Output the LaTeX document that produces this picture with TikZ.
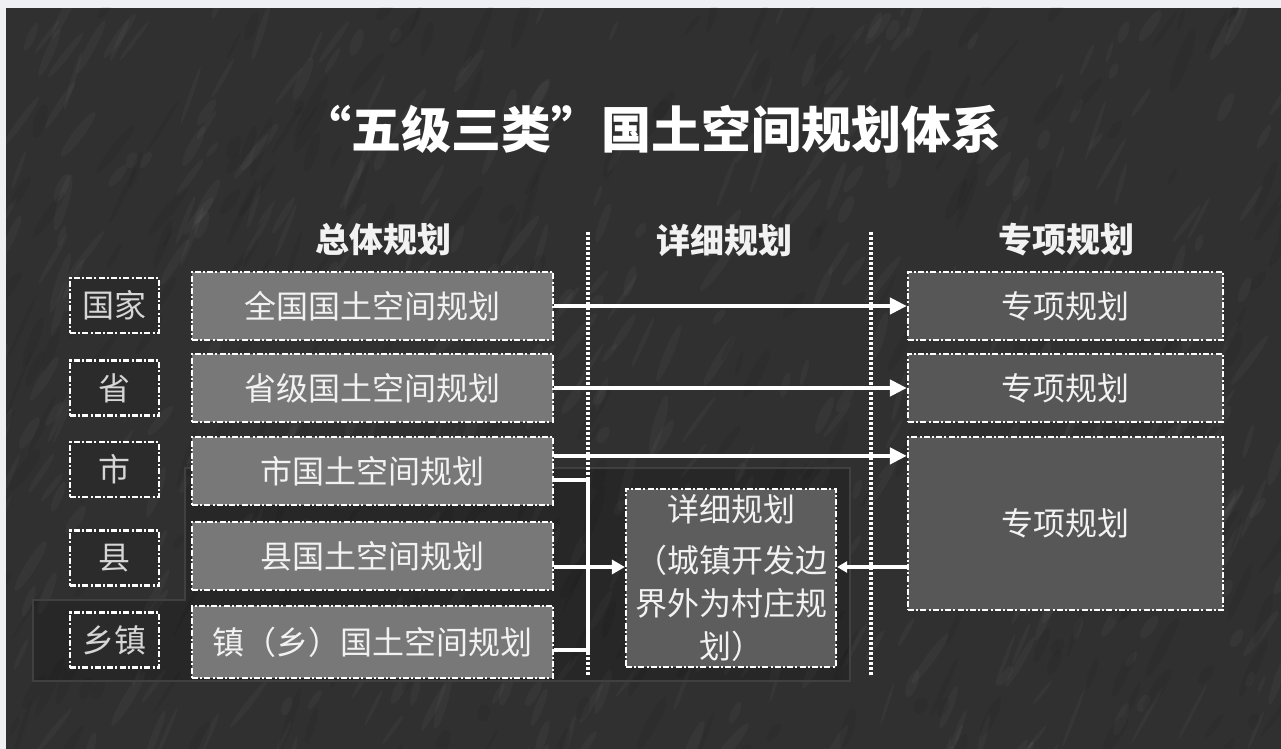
\documentclass[tikz,border=0pt]{standalone}
\usepackage{fontspec}
\setmainfont{Noto Sans CJK SC}
\usetikzlibrary{arrows.meta,calc}
\definecolor{pagebg}{HTML}{EEF0F3}
\definecolor{bgdark}{HTML}{303030}
\definecolor{lvlfill}{HTML}{2B2B2B}
\definecolor{grayfill}{HTML}{787878}
\definecolor{rightfill}{HTML}{575757}
\definecolor{midfill}{HTML}{5D5D5D}
\definecolor{txtlight}{HTML}{F2F2F2}
\definecolor{txtgray}{HTML}{D6D6D6}
\definecolor{paneledge}{HTML}{404040}
\tikzset{
  ddash/.style={draw=white, line width=1.1pt, dash pattern=on 3pt off 1.1pt on 1pt off 1.1pt},
  lvlbox/.style={ddash, fill=lvlfill, minimum width=44.5pt, minimum height=27.5pt, inner sep=0pt,
    font=\fontsize{16}{18}\selectfont, text=txtgray},
  graybox/.style={ddash, fill=grayfill, minimum width=180.5pt, minimum height=34pt, inner sep=0pt,
    font=\fontsize{16}{18}\selectfont, text=txtlight},
  rightbox/.style={ddash, fill=rightfill, minimum width=157.5pt, minimum height=34pt, inner sep=0pt,
    font=\fontsize{16}{18}\selectfont, text=txtlight},
  midbox/.style={ddash, fill=midfill, minimum width=105pt, minimum height=89pt, inner sep=0pt,
    align=center, font=\fontsize{16}{21.5}\selectfont, text=txtlight},
  header/.style={font=\fontsize{17}{20}\selectfont\bfseries, text=txtlight},
  sepline/.style={draw=white, line width=1.7pt, dash pattern=on 1.4pt off 1.1pt},
  conn/.style={draw=white, line width=2.4pt, -{Triangle[length=8.5pt,width=8pt]}},
  connsmall/.style={draw=white, line width=2.4pt, -{Triangle[length=6.5pt,width=7pt]}},
  conntiny/.style={draw=white, line width=2.4pt, -{Triangle[length=5pt,width=5.5pt]}},
  plainline/.style={draw=white, line width=2.4pt},
  panel/.style={fill=black, fill opacity=0.18, draw=paneledge, draw opacity=1, line width=0.8pt}
}
\begin{document}
\begin{tikzpicture}[x=0.5pt,y=-0.5pt]
\useasboundingbox (0,0) rectangle (1281,749);
% page and textured background
\fill[pagebg] (0,0) rectangle (1281,749);
\fill[bgdark] (6,8) rectangle (1281,749);
\begin{scope}
  \clip (6,8) rectangle (1281,749);
  \pgfmathsetseed{12}
  \foreach \i in {1,...,480}{
    \pgfmathsetmacro{\xa}{rnd*1320-20}
    \pgfmathsetmacro{\ya}{rnd*780}
    \pgfmathsetmacro{\ra}{4+rnd*12}
    \pgfmathsetmacro{\rb}{0.8+rnd*2}
    \pgfmathsetmacro{\an}{50+rnd*25}
    \fill[white, opacity=0.03] (\xa,\ya) ellipse [x radius=\ra pt, y radius=\rb pt, rotate=\an];
  }
  \foreach \i in {1,...,280}{
    \pgfmathsetmacro{\xa}{rnd*1320-20}
    \pgfmathsetmacro{\ya}{rnd*780}
    \pgfmathsetmacro{\ra}{4+rnd*14}
    \pgfmathsetmacro{\rb}{0.8+rnd*2.5}
    \pgfmathsetmacro{\an}{50+rnd*25}
    \fill[black, opacity=0.06] (\xa,\ya) ellipse [x radius=\ra pt, y radius=\rb pt, rotate=\an];
  }
\end{scope}

% title
\node[font=\fontsize{25}{29}\selectfont\bfseries, text=white] (title) at (651,129) {“五级三类”国土空间规划体系};

% column headers
\node[header] (h1) at (383,240) {总体规划};
\node[header] (h2) at (724,240) {详细规划};
\node[header] (h3) at (1066,240) {专项规划};

% faint panel behind the lower rows
\path[panel] (33,600) -- (185,600) -- (185,468) -- (850,468) -- (850,681) -- (33,681) -- cycle;

% separators
\draw[sepline] (588,232) -- (588,676);
\draw[sepline] (871,232) -- (871,676);

% level boxes
\node[lvlbox] (l1) at (114.5,305.5) {国家};
\node[lvlbox] (l2) at (114.5,388) {省};
\node[lvlbox] (l3) at (114.5,469.5) {市};
\node[lvlbox] (l4) at (114.5,558) {县};
\node[lvlbox] (l5) at (114.5,640) {乡镇};

% overall plan boxes
\node[graybox] (g1) at (372.5,306) {全国国土空间规划};
\node[graybox] (g2) at (372.5,388) {省级国土空间规划};
\node[graybox] (g3) at (372.5,471) {市国土空间规划};
\node[graybox] (g4) at (372.5,556) {县国土空间规划};
\node[graybox, minimum height=36pt] (g5) at (372.5,642) {镇（乡）国土空间规划};

% special plan boxes
\node[rightbox] (r1) at (1065.5,306) {专项规划};
\node[rightbox] (r2) at (1065.5,388) {专项规划};
\node[rightbox, minimum height=86.5pt] (r3) at (1065.5,523.5) {专项规划};

% detailed plan box
\node[midbox] (d) at (731,578) {详细规划\\[4pt]（城镇开发边\\界外为村庄规\\划）};

% connectors
\draw[conn] (g1.east) -- (r1.west);
\draw[conn] (g2.east) -- (r2.west);
\draw[conn] ([yshift=-10pt]g3.north east) -- ([yshift=-10pt]g3.north east -| r3.west);
\coordinate (busB) at (588,650);
\draw[plainline] ([yshift=-4.5pt]g3.east) -| (busB) -- ([yshift=-4pt]g5.east);
\draw[connsmall] ([yshift=-5.5pt]g4.east) -- ([yshift=-5.5pt]g4.east -| d.west);
\draw[conntiny] ([yshift=-21.75pt]r3.west) -- ([yshift=-21.75pt]r3.west -| d.east);
\end{tikzpicture}
\end{document}
